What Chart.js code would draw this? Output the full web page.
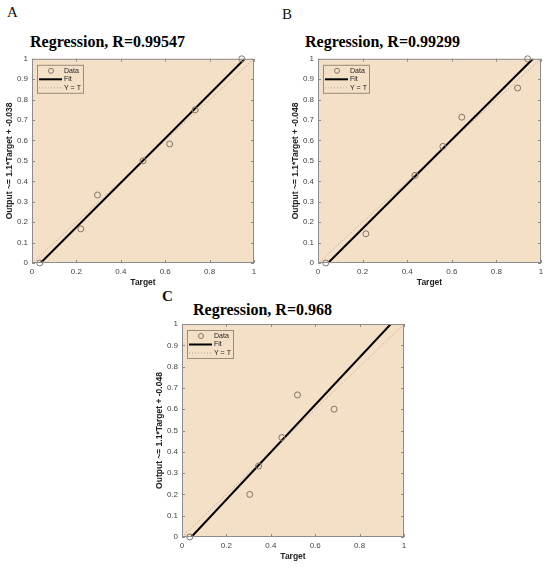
<!DOCTYPE html>
<html>
<head>
<meta charset="utf-8">
<script src="https://cdn.jsdelivr.net/npm/chart.js@4.4.1/dist/chart.umd.min.js"></script>
<style>
  body { margin: 0; background: #fff; }
  #page { position: relative; width: 550px; height: 567px; overflow: hidden; }
  canvas { position: absolute; }
  .letter { position: absolute; font-family: "Liberation Serif", serif; font-size: 15px; color: #111; }
  .title { position: absolute; font-family: "Liberation Serif", serif; font-weight: bold; font-size: 16px; color: #000; white-space: nowrap; }
</style>
</head>
<body>
<div id="page">
  <div class="letter" style="left:7px;top:4px;">A</div>
  <div class="letter" style="left:282px;top:6px;">B</div>
  <div class="letter" style="left:162px;top:288px;font-weight:bold;">C</div>
  <div class="title" style="left:30px;top:33px;">Regression, R=0.99547</div>
  <div class="title" style="left:305px;top:33px;">Regression, R=0.99299</div>
  <div class="title" style="left:193px;top:301px;">Regression, R=0.968</div>
  <canvas id="chartA" width="270" height="240" style="left:0px;top:50px;"></canvas>
  <canvas id="chartB" width="271" height="240" style="left:286px;top:50px;"></canvas>
  <canvas id="chartC" width="270" height="254" style="left:150px;top:310px;"></canvas>
</div>
<script>
// axis ticks
const xTicks = [0, 0.2, 0.4, 0.6, 0.8, 1];
const yTicks = [0, 0.1, 0.2, 0.3, 0.4, 0.5, 0.6, 0.7, 0.8, 0.9, 1];

// panel A
const targetA = [0.035, 0.22, 0.295, 0.5, 0.62, 0.735, 0.945];
const outputA = [0, 0.167, 0.333, 0.5, 0.583, 0.75, 1.0];
const fitA = [1.087, -0.042]; // slope, intercept
const yLabelA = "Output ~= 1.1*Target + -0.038";

// panel B
const targetB = [0.035, 0.215, 0.435, 0.56, 0.645, 0.895, 0.94];
const outputB = [0, 0.143, 0.429, 0.571, 0.714, 0.857, 1.0];
const fitB = [1.088, -0.049];
const yLabelB = "Output ~= 1.1*Target + -0.048";

// panel C
const targetC = [0.035, 0.305, 0.345, 0.45, 0.52, 0.685];
const outputC = [0, 0.2, 0.333, 0.467, 0.667, 0.6];
const fitC = [1.113, -0.047];
const yLabelC = "Output ~= 1.1*Target + -0.048";

const peach = "#f4dfc7";
const boxColor = "#8c8c8c";
const tickFont = { family: "Liberation Sans, Arial, sans-serif", size: 8 };
const titleFont = { family: "Liberation Sans, Arial, sans-serif", size: 8.5, weight: "bold" };
const fmtTick = v => String(+Number(v).toFixed(1));

// fill the axes area and draw the box + inward ticks like MATLAB
const axesBox = {
  id: "axesBox",
  beforeDraw(chart) {
    const { ctx, chartArea: a } = chart;
    ctx.save();
    ctx.fillStyle = peach;
    ctx.fillRect(a.left, a.top, a.right - a.left, a.bottom - a.top);
    ctx.restore();
  },
  afterDraw(chart) {
    const { ctx, chartArea: a, scales } = chart;
    ctx.save();
    ctx.strokeStyle = boxColor;
    ctx.lineWidth = 1;
    ctx.strokeRect(a.left + 0.5, a.top + 0.5, a.right - a.left - 1, a.bottom - a.top - 1);
    ctx.beginPath();
    scales.x.ticks.forEach(t => {
      const px = Math.round(scales.x.getPixelForValue(t.value)) + 0.5;
      ctx.moveTo(px, a.bottom); ctx.lineTo(px, a.bottom - 3);
      ctx.moveTo(px, a.top); ctx.lineTo(px, a.top + 3);
    });
    scales.y.ticks.forEach(t => {
      const py = Math.round(scales.y.getPixelForValue(t.value)) + 0.5;
      ctx.moveTo(a.left, py); ctx.lineTo(a.left + 3, py);
      ctx.moveTo(a.right, py); ctx.lineTo(a.right - 3, py);
    });
    ctx.stroke();

    // legend box in the top-left corner
    const lx = a.left + 5, ly = a.top + 6, lw = 46, lh = 28;
    ctx.fillStyle = peach;
    ctx.fillRect(lx, ly, lw, lh);
    ctx.strokeStyle = "#9a8c7c";
    ctx.strokeRect(lx + 0.5, ly + 0.5, lw, lh);
    ctx.font = "7px Liberation Sans, Arial, sans-serif";
    ctx.textBaseline = "middle";
    chart.data.datasets.forEach((ds, i) => {
      const ry = ly + 6 + i * 8.5;
      if (ds.showLine === false) {
        ctx.beginPath();
        ctx.strokeStyle = ds.borderColor;
        ctx.lineWidth = 1;
        ctx.arc(lx + 14, ry, 2.5, 0, Math.PI * 2);
        ctx.stroke();
      } else {
        ctx.beginPath();
        ctx.strokeStyle = ds.borderColor;
        ctx.lineWidth = ds.borderWidth;
        ctx.setLineDash(ds.borderDash || []);
        ctx.moveTo(lx + 2, ry); ctx.lineTo(lx + 25, ry);
        ctx.stroke();
        ctx.setLineDash([]);
      }
      ctx.fillStyle = "#222";
      ctx.fillText(ds.label, lx + 27, ry);
    });
    ctx.restore();
  }
};

function fitLine(fit) {
  const [m, b] = fit;
  const x0 = Math.max(0, -b / m);
  const x1 = Math.min(1, (1 - b) / m);
  return [{ x: x0, y: m * x0 + b }, { x: x1, y: m * x1 + b }];
}

function makeChart(id, targets, outputs, fit, yLabel, rightPad, topPad) {
  const ctx = document.getElementById(id).getContext("2d");
  return new Chart(ctx, {
    type: "scatter",
    data: {
      datasets: [
        {
          label: "Data",
          data: targets.map((t, i) => ({ x: t, y: outputs[i] })),
          showLine: false,
          pointRadius: 3,
          pointBorderWidth: 1,
          borderColor: "#857565",
          backgroundColor: "rgba(0,0,0,0)",
          clip: false,
          order: 1
        },
        {
          label: "Fit",
          data: fitLine(fit),
          showLine: true,
          borderColor: "#000",
          borderWidth: 2,
          pointRadius: 0,
          order: 2
        },
        {
          label: "Y = T",
          data: [{ x: 0, y: 0 }, { x: 1, y: 1 }],
          showLine: true,
          borderColor: "#b5a593",
          borderWidth: 1,
          borderDash: [1, 2],
          pointRadius: 0,
          order: 3
        }
      ]
    },
    options: {
      responsive: false,
      animation: false,
      layout: { padding: { left: 0, top: topPad, right: rightPad, bottom: 0 } },
      plugins: { legend: { display: false }, tooltip: { enabled: false } },
      scales: {
        x: {
          type: "linear",
          min: 0, max: 1,
          afterBuildTicks: s => { s.ticks = xTicks.map(v => ({ value: v })); },
          afterFit: s => { s.height = 27; },
          grid: { display: false, drawTicks: false },
          border: { display: false },
          ticks: { font: tickFont, color: "#444", padding: 4, maxRotation: 0, callback: fmtTick },
          title: { display: true, text: "Target", font: titleFont, color: "#222", padding: { top: 0, bottom: 2 } }
        },
        y: {
          type: "linear",
          min: 0, max: 1,
          afterBuildTicks: s => { s.ticks = yTicks.map(v => ({ value: v })); },
          afterFit: s => { s.width = 32; },
          grid: { display: false, drawTicks: false },
          border: { display: false },
          ticks: { font: tickFont, color: "#444", padding: 4, callback: fmtTick },
          title: { display: true, text: yLabel, font: titleFont, color: "#222", padding: { top: 5, bottom: 0 } }
        }
      }
    },
    plugins: [axesBox]
  });
}

makeChart("chartA", targetA, outputA, fitA, yLabelA, 16, 7);
makeChart("chartB", targetB, outputB, fitB, yLabelB, 16, 7);
makeChart("chartC", targetC, outputC, fitC, yLabelC, 16, 14);
</script>
</body>
</html>
